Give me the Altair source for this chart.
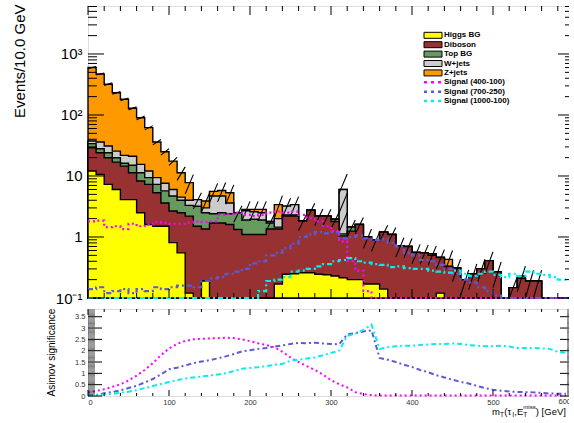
import math
import altair as alt
import pandas as pd

# ---------------- data (10 GeV bins, 0-600 GeV) ----------------
bin_low = list(range(0, 600, 10))

higgs = [12.1, 10.6, 7.3, 6.0, 4.1, 4.1, 2.5, 1.6, 1.5, 1.5,
         0.81, 0.55, 0.12, 0, 0.19, 0, 0, 0, 0, 0,
         0, 0, 0, 0.17, 0.245, 0.25, 0.26, 0.26, 0.245, 0.24,
         0.23, 0.215, 0.2, 0.2, 0.17, 0.17, 0.14, 0, 0, 0,
         0, 0, 0, 0.12, 0, 0, 0, 0, 0, 0,
         0, 0, 0, 0, 0, 0, 0, 0, 0, 0]
diboson = [16.9, 13.4, 12.6, 10.9, 10.4, 7.2, 5.8, 5.7, 3.8, 2.1,
           1.86, 1.95, 2.08, 1.5, 1.16, 1.7, 1.7, 1.6, 1.33, 1.1,
           1.1, 1.1, 1.35, 1.18, 1.96, 1.95, 1.57, 2.48, 1.96, 1.96,
           1.57, 0.83, 1.05, 1.4, 0.83, 0.73, 1.06, 1.1, 0.72, 0.7,
           0.56, 0.55, 0.5, 0.34, 0.33, 0.31, 0.2, 0.25, 0.3, 0.41,
           0.27, 0, 0.148, 0.21, 0.19, 0.19, 0, 0, 0, 0]
top_bg = [5.0, 4.0, 4.1, 3.0, 1.7, 3.7, 3.0, 2.1, 2.0, 2.1,
          2.03, 1.5, 1.1, 1.7, 1.15, 0.7, 0.8, 0.8, 1.17, 0.8,
          0.85, 0.8, 0.35, 0.1, 0.1, 0.1, 0, 0, 0, 0,
          0.15, 0.08, 0.21, 0, 0, 0, 0, 0, 0, 0,
          0, 0, 0, 0, 0, 0, 0, 0, 0, 0,
          0, 0, 0, 0, 0, 0, 0, 0, 0, 0]
wjets = [3.5, 8.0, 7.0, 5.7, 5.6, 6.1, 4.2, 2.7, 2.1, 1.9,
         1.3, 0.5, 0.7, 0.9, 0.5, 2.3, 2.2, 1.2, 0, 0.8,
         0.65, 0.6, 0.1, 0.55, 0.9, 1.1, 0, 0, 0, 0,
         0, 4.88, 0, 0, 0, 0, 0, 0, 0, 0,
         0, 0, 0, 0, 0, 0, 0, 0, 0, 0,
         0, 0, 0, 0, 0, 0, 0, 0, 0, 0]
zjets = [562, 434, 289, 206, 159, 108, 74.5, 49.9, 26.6, 17.4,
         11.5, 6.8, 3.8, 0, 0.9, 0.9, 1.1, 1.7, 0, 0.14,
         0.24, 0.34, 0, 1.4, 0, 0, 0, 0, 0, 0,
         0, 0, 0, 0, 0, 0, 0, 0, 0, 0,
         0, 0, 0.03, 0, 0.1, 0, 0, 0, 0, 0,
         0, 0, 0, 0.02, 0, 0, 0, 0, 0, 0]
bkg_rel_err = [0.04, 0.04, 0.05, 0.05, 0.05, 0.06, 0.07, 0.08, 0.1, 0.12,
               0.15, 0.25, 0.35, 0.3, 0.35, 0.35, 0.35, 0.35, 0.3, 0.35,
               0.35, 0.35, 0.3, 0.4, 0.35, 0.35, 0.3, 0.3, 0.3, 0.3,
               0.3, 0.8, 0.3, 0.3, 0.35, 0.35, 0.3, 0.3, 0.35, 0.35,
               0.35, 0.35, 0.35, 0.35, 0.4, 0.4, 0.45, 0.45, 0.45, 0.4,
               0.45, 0, 0.5, 0.45, 0.5, 0.5, 0, 0, 0, 0]

sig400 = [1.8, 1.85, 1.45, 1.5, 1.35, 1.65, 1.5, 1.6, 1.75, 1.7,
          1.65, 1.65, 1.7, 1.8, 1.75, 1.8, 2.3, 2.4, 2.5, 2.3,
          2.2, 2.3, 2.5, 2.6, 2.5, 2.6, 2.3, 2.05, 1.8, 1.5,
          1.25, 0.85, 0.4, 0.28, 0.13, 0.07, 0.05, 0.05, 0.05, 0.05,
          0.05, 0.05, 0.05, 0.05, 0.05, 0.05, 0.05, 0.05, 0.05, 0.05,
          0.05, 0.05, 0.05, 0.05, 0.05, 0.05, 0.05, 0.05, 0.05, 0.05]
sig700 = [0.14, 0.15, 0.12, 0.13, 0.14, 0.12, 0.14, 0.13, 0.15, 0.14,
          0.15, 0.16, 0.16, 0.15, 0.19, 0.21, 0.22, 0.25, 0.27, 0.3,
          0.37, 0.4, 0.5, 0.55, 0.65, 0.78, 1.0, 1.1, 1.2, 1.15,
          1.2, 0.95, 1.0, 1.05, 0.95, 0.9, 0.92, 0.8, 0.7, 0.55,
          0.5, 0.42, 0.4, 0.35, 0.3, 0.25, 0.2, 0.18, 0.15, 0.13,
          0.11, 0.1, 0.08, 0.07, 0.06, 0.05, 0.05, 0.04, 0.04, 0.04]
sig1000 = [0.03, 0.04, 0.05, 0.05, 0.06, 0.06, 0.07, 0.07, 0.08, 0.08,
           0.08, 0.09, 0.09, 0.09, 0.09, 0.09, 0.09, 0.09, 0.09, 0.09,
           0.09, 0.13, 0.19, 0.2, 0.22, 0.27, 0.28, 0.3, 0.33, 0.36,
           0.4, 0.42, 0.45, 0.4, 0.38, 0.36, 0.35, 0.32, 0.33, 0.31,
           0.3, 0.3, 0.28, 0.27, 0.26, 0.28, 0.25, 0.23, 0.25, 0.27,
           0.24, 0.22, 0.25, 0.23, 0.27, 0.25, 0.24, 0.22, 0.2, 0.2]

z400 = [0.15, 0.22, 0.3, 0.4, 0.52, 0.68, 0.9, 1.15, 1.45, 1.8,
        2.1, 2.3, 2.43, 2.5, 2.52, 2.54, 2.55, 2.57, 2.56, 2.5,
        2.42, 2.33, 2.25, 2.15, 1.95, 1.7, 1.5, 1.32, 1.15, 0.95,
        0.7, 0.52, 0.38, 0.17, 0.08, 0.04, 0.02, 0.02, 0.02, 0.02,
        0.02, 0.02, 0.02, 0.02, 0.02, 0.02, 0.02, 0.02, 0.02, 0.02,
        0.02, 0.02, 0.02, 0.02, 0.02, 0.02, 0.02, 0.02, 0.02, 0.02]
z700 = [0.02, 0.05, 0.12, 0.18, 0.25, 0.35, 0.45, 0.6, 0.75, 0.95,
        1.18, 1.25, 1.35, 1.45, 1.52, 1.58, 1.66, 1.75, 1.85, 1.97,
        2.02, 2.08, 2.12, 2.18, 2.23, 2.3, 2.34, 2.33, 2.35, 2.32,
        2.3, 2.28, 2.72, 2.78, 2.85, 2.9, 1.68, 1.6, 1.5, 1.38,
        1.28, 1.15, 1.05, 0.92, 0.82, 0.72, 0.62, 0.55, 0.45, 0.35,
        0.28, 0.23, 0.2, 0.18, 0.17, 0.16, 0.14, 0.11, 0.1, 0.1]
z1000 = [0.02, 0.04, 0.07, 0.1, 0.14, 0.19, 0.26, 0.35, 0.44, 0.53,
         0.62, 0.7, 0.77, 0.82, 0.86, 0.9, 0.95, 1.0, 1.1, 1.2,
         1.24, 1.27, 1.32, 1.37, 1.42, 1.55, 1.6, 1.66, 1.7, 1.8,
         1.9, 2.0, 2.65, 2.75, 2.92, 3.15, 2.08, 2.15, 2.2, 2.22,
         2.22, 2.25, 2.27, 2.3, 2.3, 2.32, 2.3, 2.25, 2.22, 2.2,
         2.2, 2.22, 2.18, 2.12, 2.12, 2.12, 2.1, 2.08, 1.95, 1.9]

bkg_names = ["Higgs BG", "Diboson", "Top BG", "W+jets", "Z+jets"]
bkg_colors = ["#ffff00", "#983232", "#679a5f", "#cccccc", "#ff9900"]
sig_names = ["Signal (400-100)", "Signal (700-250)", "Signal (1000-100)"]
sig_colors = ["#ff00ff", "#5b5bd6", "#00f0f0"]
sig_dash = [[2, 3], [5, 3, 2, 3], [5, 3, 2, 3]]
x_tick_labels = [0, 100, 200, 300, 400, 500]
x_last_label = "600"

# ---------------- geometry / scales ----------------
W, HT, HB = 486, 292, 87
FONT = "Liberation Sans"
xsc = alt.Scale(domain=[0, 600], nice=False, zero=False)
ysc_t = alt.Scale(type="log", domain=[0.1, 6120], nice=False, clamp=True)
ysc_b = alt.Scale(domain=[0, 3.84], nice=False, zero=False, clamp=True)

y_axis_top = alt.Axis(
    values=[0.1, 1, 10, 100, 1000],
    labelExpr="datum.value < 0.5 ? '10\u207b\u00b9' : datum.value < 5 ? '1' : datum.value < 50 ? '10' : datum.value < 500 ? '10\u00b2' : '10\u00b3'",
    ticks=False, domain=False, grid=False, labelFontSize=15, labelPadding=6,
    labelOverlap=False, labelColor="black", labelFont=FONT,
    title="Events/10.0 GeV", titleFontSize=15, titleFontWeight="normal", titleFont=FONT,
    titleAngle=-90, titleAlign="right", titleBaseline="middle", titleX=-69, titleY=-2)

y_axis_bot = alt.Axis(
    values=[0, 0.5, 1, 1.5, 2, 2.5, 3, 3.5], format="~g",
    ticks=False, domain=False, grid=False, labelFontSize=7.5, labelPadding=3,
    labelOverlap=False, labelColor="#333333", labelFont=FONT,
    title="Asimov significance", titleFontSize=10, titleFontWeight="normal", titleFont=FONT,
    titleAngle=-90, titleAlign="center", titleBaseline="middle", titleX=-37, titleY=43)

x_axis_bot = alt.Axis(
    values=x_tick_labels, format="d",
    ticks=False, domain=False, grid=False, labelFontSize=7.5, labelPadding=2,
    labelOverlap=False, labelColor="#333333", labelFont=FONT, title=None)


def XT(f):
    return alt.X(f, type="quantitative", scale=xsc, axis=None)


def YT(f):
    return alt.Y(f, type="quantitative", scale=ysc_t, axis=y_axis_top)


def XB(f):
    return alt.X(f, type="quantitative", scale=xsc, axis=x_axis_bot)


def YB(f):
    return alt.Y(f, type="quantitative", scale=ysc_b, axis=y_axis_bot)


def step_frame(vals):
    ys = [max(v, 1e-4) for v in vals]
    return pd.DataFrame({"x": bin_low + [600], "y": ys + [ys[-1]]})


# ---------------- top panel ----------------
components = [higgs, diboson, top_bg, wjets, zjets]
cum = []
running = [0.0] * 60
for comp in components:
    running = [a + b for a, b in zip(running, comp)]
    cum.append(running)

top_layers = []
for i in reversed(range(5)):
    top_layers.append(
        alt.Chart(step_frame(cum[i])).mark_area(
            interpolate="step-after", fill=bkg_colors[i], fillOpacity=1,
            stroke="black", strokeWidth=1.4
        ).encode(x=XT("x"), y=YT("y"), y2=alt.value(HT))
    )

# hatched uncertainty band on the total background
total = cum[4]
hx, hx2, hy, hy2 = [], [], [], []
for i in range(60):
    t, e = total[i], bkg_rel_err[i]
    if t <= 0 or e <= 0:
        continue
    lo, hi = t * (1 - e), t * (1 + e)
    k = max(1, round(math.log10(hi / lo) * 61 / 20))
    for j in range(k):
        hx.append(bin_low[i])
        hx2.append(bin_low[i] + 10)
        hy.append(lo * (hi / lo) ** (j / k))
        hy2.append(lo * (hi / lo) ** ((j + 1) / k))
hatch = pd.DataFrame({"x": hx, "x2": hx2, "y": hy, "y2": hy2})
top_layers.append(
    alt.Chart(hatch).mark_rule(color="black", strokeWidth=1.1).encode(
        x=XT("x"), x2="x2:Q", y=YT("y"), y2="y2:Q")
)

for vals, col, dash in zip([sig400, sig700, sig1000], sig_colors, sig_dash):
    top_layers.append(
        alt.Chart(step_frame(vals)).mark_line(
            interpolate="step-after", stroke=col, strokeDash=dash, strokeWidth=2.2
        ).encode(x=XT("x"), y=YT("y"))
    )

# inside ticks (ROOT style)
maj_y = [0.1, 1, 10, 100, 1000]
min_y = [m * 10 ** d for d in range(-1, 4) for m in range(2, 10) if m * 10 ** d < 6120]


def yrules(vals, x0, x1, Yf, width=1.0, color="black"):
    return alt.Chart(pd.DataFrame({"v": vals})).mark_rule(color=color, strokeWidth=width).encode(
        y=Yf("v"), x=alt.value(x0), x2=alt.value(x1))


def xrules(vals, y0, y1, Xf, width=1.0):
    return alt.Chart(pd.DataFrame({"v": vals})).mark_rule(color="black", strokeWidth=width).encode(
        x=Xf("v"), y=alt.value(y0), y2=alt.value(y1))


maj_x = list(range(0, 601, 100))
min_x = [v for v in range(0, 601, 20) if v % 100]

top_layers += [
    yrules(maj_y, 0, 16, YT), yrules(min_y, 0, 9, YT),
    yrules(maj_y, W - 16, W, YT), yrules(min_y, W - 9, W, YT),
    xrules(maj_x, HT - 9, HT, XT), xrules(min_x, HT - 5, HT, XT),
    xrules(maj_x, 0, 9, XT), xrules(min_x, 0, 5, XT),
]

# legend (inside the top panel)
leg_x0, leg_x1, leg_tx = 336, 354, 356
for i in range(8):
    yc = 29.3 + 9.4 * i
    if i < 5:
        label = bkg_names[i]
        top_layers.append(
            alt.Chart(pd.DataFrame({"t": [label]})).mark_rect(
                fill=bkg_colors[i], stroke="black", strokeWidth=1
            ).encode(x=alt.value(leg_x0), x2=alt.value(leg_x1),
                     y=alt.value(yc - 3), y2=alt.value(yc + 3))
        )
    else:
        label = sig_names[i - 5]
        top_layers.append(
            alt.Chart(pd.DataFrame({"t": [label]})).mark_rule(
                stroke=sig_colors[i - 5], strokeDash=[3, 4], strokeWidth=2.5
            ).encode(x=alt.value(leg_x0), x2=alt.value(leg_x1), y=alt.value(yc))
        )
    top_layers.append(
        alt.Chart(pd.DataFrame({"t": [label]})).mark_text(
            align="left", baseline="middle", fontSize=8, fontWeight="bold", font=FONT, color="black"
        ).encode(x=alt.value(leg_tx), y=alt.value(yc), text="t:N")
    )

top_panel = alt.layer(*top_layers).properties(width=W, height=HT)

# ---------------- bottom panel ----------------
bot_layers = []
for vals, col, dash in zip([z400, z700, z1000], sig_colors, sig_dash):
    bot_layers.append(
        alt.Chart(pd.DataFrame({"x": bin_low, "z": vals})).mark_line(
            stroke=col, strokeDash=dash, strokeWidth=2
        ).encode(x=XB("x"), y=YB("z"))
    )

maj_yb = [0, 0.5, 1, 1.5, 2, 2.5, 3, 3.5]
min_yb = [round(0.05 * k, 2) for k in range(0, 77) if k % 10]
bot_layers += [
    yrules(maj_yb, 0, 14, YB), yrules(min_yb, 0, 7, YB, width=0.5),
    yrules(maj_yb, W - 14, W, YB), yrules(min_yb, W - 7, W, YB, width=0.5),
    xrules(maj_x, HB - 6, HB, XB), xrules(min_x, HB - 3, HB, XB),
    xrules(maj_x, 0, 6, XB), xrules(min_x, 0, 3, XB),
]

# last x label, kept inside the picture's right edge
bot_layers.append(
    alt.Chart(pd.DataFrame({"t": [x_last_label]})).mark_text(
        align="right", baseline="top", fontSize=7.5, font=FONT, color="#333333"
    ).encode(x=alt.value(W - 3), y=alt.value(HB + 2), text="t:N")
)

# x-axis title m_T(tau_l, E_T^miss) [GeV]
title_pieces = [("m", 404, 105.5, 9.5), ("T", 412.1, 108, 6.5), ("(\u03c4", 416.3, 105.5, 9.5),
                ("l", 424.6, 108, 6.5), (",E", 426.3, 105.5, 9.5), ("T", 435.3, 108, 6.5),
                ("miss", 435.3, 100, 6), (") [GeV]", 447.8, 105.5, 9.5)]
for txt, px, py, fs in title_pieces:
    bot_layers.append(
        alt.Chart(pd.DataFrame({"t": [txt]})).mark_text(
            align="left", baseline="alphabetic", fontSize=fs, font=FONT, color="black"
        ).encode(x=alt.value(px), y=alt.value(py), text="t:N")
    )

bottom_panel = alt.layer(*bot_layers).properties(width=W, height=HB)

chart = alt.vconcat(top_panel, bottom_panel, spacing=11, bounds="flush").properties(
    autosize=alt.AutoSizeParams(type="pad"),
    padding={"left": 11, "top": 3, "right": -10, "bottom": 0},
    background="white",
).configure_view(stroke="black", strokeWidth=1.2, fill="white").configure(font=FONT)

chart.save("out.html", embed_options={"renderer": "svg", "actions": False})
